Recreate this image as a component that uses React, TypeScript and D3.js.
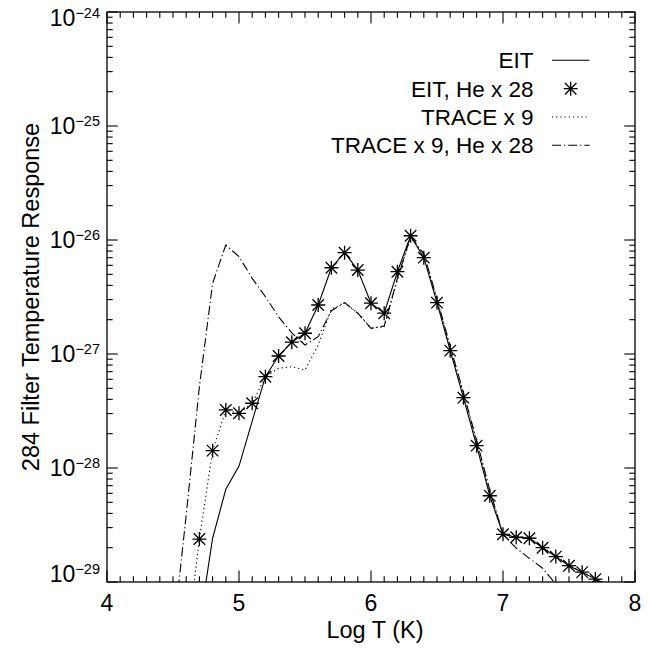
import React, { useEffect, useRef } from 'react';
import * as d3 from 'd3';

// log T grid (K)
const temps = [4.5, 4.6, 4.7, 4.8, 4.9, 5.0, 5.1, 5.2, 5.3, 5.4, 5.5, 5.6, 5.7, 5.8, 5.9, 6.0, 6.1, 6.2, 6.3, 6.4, 6.5, 6.6, 6.7, 6.8, 6.9, 7.0, 7.1, 7.2, 7.3, 7.4, 7.5, 7.6, 7.7, 7.8];

const eit = [null, null, 4.2e-30, 2.42e-29, 6.5e-29, 1.04e-28, 2.58e-28, 6.32e-28, 9.6e-28, 1.27e-27, 1.52e-27, 2.69e-27, 5.71e-27, 7.74e-27, 5.45e-27, 2.79e-27, 2.28e-27, 5.27e-27, 1.09e-26, 7.0e-27, 2.82e-27, 1.07e-27, 4.14e-28, 1.57e-28, 5.71e-29, 2.62e-29, 2.47e-29, 2.42e-29, 2.0e-29, 1.67e-29, 1.39e-29, 1.22e-29, 1.06e-29, 9.3e-30];

const eitHe = [null, null, 2.38e-29, 1.42e-28, 3.23e-28, 3.02e-28, 3.7e-28, 6.32e-28, 9.6e-28, 1.27e-27, 1.52e-27, 2.69e-27, 5.71e-27, 7.74e-27, 5.45e-27, 2.79e-27, 2.28e-27, 5.27e-27, 1.09e-26, 7.0e-27, 2.82e-27, 1.07e-27, 4.14e-28, 1.57e-28, 5.71e-29, 2.62e-29, 2.47e-29, 2.42e-29, 2.0e-29, 1.67e-29, 1.39e-29, 1.22e-29, 1.06e-29, null];

const trace = [null, 2.7e-30, 2.38e-29, 1.42e-28, 3.23e-28, 3.02e-28, 3.7e-28, 6.32e-28, 7.5e-28, 7.74e-28, 7.24e-28, 1.2e-27, 2.48e-27, 2.82e-27, 2.28e-27, 1.68e-27, 1.74e-27, 4.46e-27, 1.06e-26, 7.4e-27, 3.0e-27, 1.15e-27, 4.5e-28, 1.7e-28, 6.2e-29, 2.65e-29, 2.5e-29, 2.45e-29, 2.02e-29, 1.69e-29, 1.41e-29, 1.23e-29, 1.07e-29, 9.6e-30];

const traceHe = [3.3e-30, 3.87e-29, 5.17e-28, 4.17e-27, 9.04e-27, 7.14e-27, 4.61e-27, 3.18e-27, 2.12e-27, 1.53e-27, 1.2e-27, 1.42e-27, 2.4e-27, 2.82e-27, 2.28e-27, 1.68e-27, 1.76e-27, 4.6e-27, 1.07e-26, 7.6e-27, 3.05e-27, 1.17e-27, 4.6e-28, 1.75e-28, 6.4e-29, 2.62e-29, 1.98e-29, 1.61e-29, 1.32e-29, 9.6e-30, null, null, null, null];

const xTicks = [4, 5, 6, 7, 8];
const yDecades = [-29, -28, -27, -26, -25, -24];
const legendLabels = ['EIT', 'EIT, He x 28', 'TRACE x 9', 'TRACE x 9, He x 28'];

const FONT = '"Liberation Sans", Arial, Helvetica, sans-serif';
const DOT = '1.2,3';
const DASHDOT = '9,3,1.2,3';

const App = () => {
    const svgRef = useRef<SVGSVGElement>(null);

    useEffect(() => {
        const svg = d3.select(svgRef.current);
        svg.selectAll('*').remove();

        const left = 107, right = 635, top = 12, bottom = 582;
        const x = d3.scaleLinear().domain([4, 8]).range([left, right]);
        const y = d3.scaleLog().domain([1e-29, 1e-24]).range([bottom, top]);

        svg.append('defs').append('clipPath').attr('id', 'plotclip')
            .append('rect').attr('x', left).attr('y', top)
            .attr('width', right - left).attr('height', bottom - top);

        const g = svg.append('g');

        // ticks (inward, all four sides)
        const minorX = d3.range(40, 81).map(d => d / 10);
        minorX.forEach(t => {
            const major = Math.abs(t - Math.round(t)) < 1e-6;
            const len = major ? 11.5 : 5.7;
            g.append('line').attr('x1', x(t)).attr('x2', x(t)).attr('y1', bottom).attr('y2', bottom - len)
                .attr('stroke', '#000').attr('stroke-width', 1.1);
            g.append('line').attr('x1', x(t)).attr('x2', x(t)).attr('y1', top).attr('y2', top + len)
                .attr('stroke', '#000').attr('stroke-width', 1.1);
        });
        yDecades.forEach(dec => {
            for (let m = 1; m <= 9; m++) {
                if (dec === -24 && m > 1) break;
                const v = m * Math.pow(10, dec);
                const len = m === 1 ? 10.7 : 5.7;
                g.append('line').attr('x1', left).attr('x2', left + len).attr('y1', y(v)).attr('y2', y(v))
                    .attr('stroke', '#000').attr('stroke-width', 1.1);
                g.append('line').attr('x1', right).attr('x2', right - len).attr('y1', y(v)).attr('y2', y(v))
                    .attr('stroke', '#000').attr('stroke-width', 1.1);
            }
        });

        g.append('rect').attr('x', left).attr('y', top).attr('width', right - left).attr('height', bottom - top)
            .attr('fill', 'none').attr('stroke', '#000').attr('stroke-width', 1.3);

        // tick labels
        xTicks.forEach(t => {
            g.append('text').attr('x', x(t)).attr('y', 611).attr('text-anchor', 'middle')
                .attr('font-family', FONT).attr('font-size', 23).text(String(t));
        });
        yDecades.forEach((dec, i) => {
            const yy = y(Math.pow(10, dec));
            let base = yy + 7.8;
            if (i === 0) base = yy;
            if (i === yDecades.length - 1) base = yy + 14;
            const txt = g.append('text').attr('x', 100).attr('y', base).attr('text-anchor', 'end')
                .attr('font-family', FONT).attr('font-size', 23);
            txt.append('tspan').text('10');
            txt.append('tspan').attr('font-size', 14.5).attr('dy', -7.8).text('\u2212' + Math.abs(dec));
        });

        // axis titles
        g.append('text').attr('x', (left + right) / 2 + 4).attr('y', 638).attr('text-anchor', 'middle')
            .attr('font-family', FONT).attr('font-size', 23.5).text('Log T (K)');
        g.append('text').attr('transform', `translate(39,${(top + bottom) / 2}) rotate(-90)`)
            .attr('text-anchor', 'middle').attr('font-family', FONT).attr('font-size', 23.5)
            .text('284 Filter Temperature Response');

        // curves
        const plot = svg.append('g').attr('clip-path', 'url(#plotclip)');
        const mkLine = (vals: (number | null)[]) => d3.line<number>()
            .defined((_, i) => vals[i] != null)
            .x(d => x(d))
            .y((_, i) => y(vals[i] as number))(temps);

        plot.append('path').attr('d', mkLine(eit)).attr('fill', 'none').attr('stroke', '#000').attr('stroke-width', 1.1);
        plot.append('path').attr('d', mkLine(trace)).attr('fill', 'none').attr('stroke', '#000').attr('stroke-width', 1.1)
            .attr('stroke-dasharray', DOT);
        plot.append('path').attr('d', mkLine(traceHe)).attr('fill', 'none').attr('stroke', '#000').attr('stroke-width', 1.1)
            .attr('stroke-dasharray', DASHDOT);

        const star = (cx: number, cy: number, r = 7) => {
            const d = r * 0.82;
            return `M${cx - r},${cy}H${cx + r}M${cx},${cy - r}V${cy + r}` +
                `M${cx - d},${cy - d}L${cx + d},${cy + d}M${cx - d},${cy + d}L${cx + d},${cy - d}`;
        };
        plot.append('g').selectAll('path')
            .data(temps.filter((_, i) => eitHe[i] != null).map(t => ({ t, v: eitHe[temps.indexOf(t)] as number })))
            .enter().append('path')
            .attr('d', d => star(x(d.t), y(d.v)))
            .attr('stroke', '#000').attr('stroke-width', 1.3).attr('fill', 'none');

        // legend
        const lg = svg.append('g');
        const rowBase = [68.3, 96.7, 125, 153.3];
        legendLabels.forEach((lab, i) => {
            lg.append('text').attr('x', 533.5).attr('y', rowBase[i]).attr('text-anchor', 'end')
                .attr('font-family', FONT).attr('font-size', 22.5).text(lab);
            const ly = rowBase[i] - 8;
            if (i === 1) {
                lg.append('path').attr('d', star(570.7, ly)).attr('stroke', '#000').attr('stroke-width', 1.3);
            } else {
                lg.append('line').attr('x1', 552).attr('x2', 589.5).attr('y1', ly).attr('y2', ly)
                    .attr('stroke', '#000').attr('stroke-width', 1.1)
                    .attr('stroke-dasharray', i === 2 ? DOT : i === 3 ? DASHDOT : null);
            }
        });
    }, []);

    return (
        <svg ref={svgRef} width={662} height={648}
            style={{ position: 'absolute', left: 0, top: 0, background: '#fff' }} />
    );
};

export default App;
